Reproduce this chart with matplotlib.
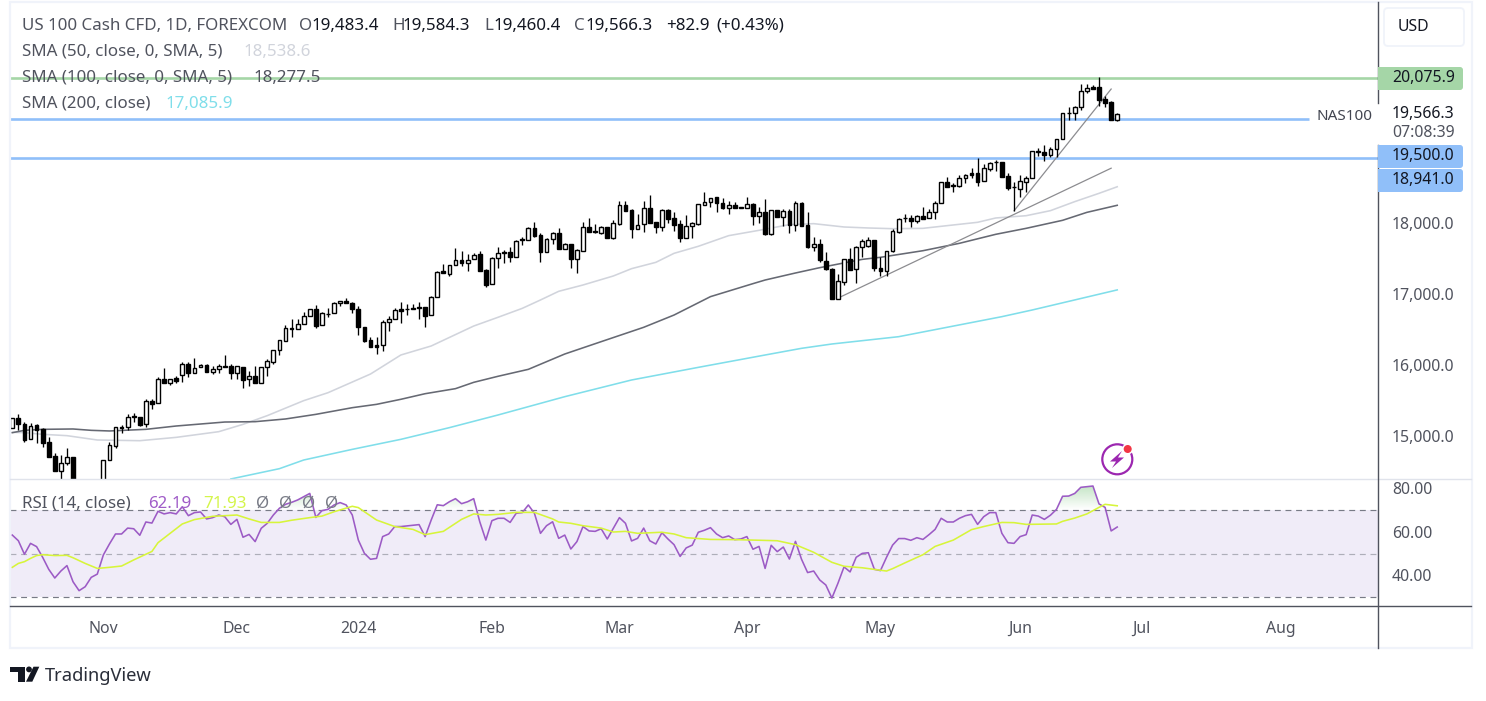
import numpy as np
import matplotlib
matplotlib.use("Agg")
import matplotlib.pyplot as plt
from matplotlib.patches import Rectangle, FancyBboxPatch, Circle, Polygon
from matplotlib.path import Path
from matplotlib.transforms import ScaledTranslation

plt.rcParams["font.family"] = ["Noto Sans", "DejaVu Sans"]

opens = [15135,15275,15195,14980,15180,15120,14945,14740,14540,14645,14730,14220,14035,14175,14080,14270,14685,14890,15155,15150,15310,15295,15195,15515,15490,15825,15780,15840,15885,16040,15910,15995,16025,15935,15965,
         16010,16010,15920,16000,15825,15875,15780,15995,16075,16235,16370,16550,16530,16600,16715,16810,16585,16750,16755,16895,16925,16895,16810,16560,16375,16305,16305,16630,16670,16810,16815,16830,16840,16840,16730,
         16980,17350,17315,17430,17505,17460,17515,17585,17365,17165,17530,17615,17615,17555,17805,17785,17955,17855,17625,17800,17885,17655,17730,17515,17640,17970,17910,17890,17970,17810,18020,18275,18210,17950,18010,
         18235,18040,17975,18210,18095,18010,17810,17980,18020,18285,18330,18390,18305,18245,18275,18255,18245,18290,18130,18180,17880,18205,18115,18195,18005,18305,17995,17695,17730,17500,17380,16960,17200,17515,17375,
         17685,17700,17790,17390,17355,17630,17905,18105,18095,18050,18120,18095,18190,18305,18600,18560,18545,18655,18730,18730,18615,18795,18890,18885,18685,18540,18510,18610,18655,19040,19025,18985,19065,19205,19580,
         19575,19665,19890,19940,19940,19770,19730,19483.4]
highs = [15275,15340,15230,15205,15195,15135,15020,14785,14760,14855,14730,14315,14220,14195,14340,14690,14945,15150,15185,15340,15355,15295,15550,15545,15860,15985,15835,15875,16070,16065,16125,16040,16040,16015,16040,
         16165,16040,16015,16000,15940,16015,15995,16110,16235,16375,16590,16670,16670,16775,16810,16870,16775,16835,16915,16925,16965,16915,16860,16560,16420,16420,16655,16720,16835,16915,16890,16890,16915,16840,17000,
         17350,17450,17430,17670,17635,17590,17600,17635,17375,17545,17685,17650,17685,17790,17825,17975,18040,17885,17810,17905,17960,17740,17730,17655,18040,18100,18015,17985,17970,18070,18340,18340,18220,18155,18340,
         18425,18040,18225,18220,18185,18070,18140,18045,18290,18465,18385,18390,18375,18340,18320,18255,18390,18305,18250,18360,18205,18205,18220,18220,18340,18325,18180,17825,17800,17620,17400,17310,17515,17670,17705,
         17800,17835,17790,17545,17640,17940,18105,18150,18135,18140,18255,18230,18345,18600,18675,18585,18700,18720,18800,18940,18860,18890,18915,18885,18730,18610,18705,18690,19040,19080,19125,19095,19215,19575,19665,
         19675,19985,19985,19975,20085,19815,19750,19584.3]
lows = [15135,15115,14950,14980,14935,14880,14735,14540,14420,14620,14175,13985,13965,14035,14055,14245,14685,14865,15075,15115,15230,15170,15160,15415,15490,15780,15750,15780,15795,15865,15910,15995,15930,15895,15920,
        15995,15835,15835,15710,15735,15780,15780,15875,16040,16170,16370,16425,16530,16600,16715,16555,16585,16710,16755,16865,16895,16765,16455,16350,16285,16190,16230,16510,16670,16625,16735,16810,16680,16570,16730,
        16980,17320,17285,17430,17425,17355,17515,17355,17130,17165,17390,17470,17485,17555,17725,17785,17835,17485,17615,17730,17655,17655,17400,17330,17630,17905,17885,17880,17810,17800,18005,18200,17810,17950,17905,
        18025,17885,17920,18035,17920,17765,17810,17810,17995,18285,18260,18190,18220,18155,18235,18245,18245,18000,18035,17865,17865,18115,17985,17885,17920,17985,17680,17640,17475,17365,16960,16960,17160,17360,17185,
        17550,17690,17350,17285,17285,17620,17885,18045,17975,18025,18090,18095,18090,18305,18540,18470,18540,18595,18655,18555,18615,18765,18765,18680,18500,18200,18395,18465,18655,18970,18900,18955,18960,19205,19480,
        19480,19620,19855,19920,19680,19655,19475,19460.4]
closes = [15275,15195,14975,15175,15115,14935,14735,14540,14645,14730,14220,14035,14175,14080,14290,14690,14895,15150,15145,15300,15290,15185,15515,15485,15825,15780,15835,15805,16040,15910,15990,16025,15935,15965,16010,
          16000,15920,16010,15820,15870,15780,15995,16080,16235,16375,16545,16540,16600,16715,16810,16580,16755,16740,16895,16925,16895,16810,16560,16370,16285,16285,16630,16670,16800,16795,16810,16810,16830,16720,16980,
          17335,17320,17430,17500,17460,17510,17580,17355,17160,17530,17600,17605,17555,17770,17795,17955,17850,17625,17800,17885,17655,17730,17515,17645,17965,17905,17900,17965,17810,18025,18275,18200,17950,18005,18235,
          18035,17975,18210,18090,18005,17810,17980,18025,18290,18330,18385,18305,18245,18275,18245,18245,18290,18130,18180,17875,18205,18115,18195,18000,18305,17985,17695,17730,17500,17375,16960,17205,17515,17370,17685,
          17770,17785,17390,17350,17630,17910,18080,18095,18050,18120,18090,18190,18305,18600,18540,18550,18655,18710,18710,18610,18800,18880,18885,18680,18520,18530,18615,18655,19040,19035,18985,19065,19205,19575,19575,
          19665,19890,19925,19920,19765,19725,19475,19566.3]

sma50_bars = [0,2,5,9,14,21,27,34,38,42,48,52,59,64,69,76,80,84,87,90,94,99,102,106,109,113,118,123,128,132,137,141,145,150,154,159,162,167,171,175,179,182]
sma50 = [15080,15075,15052,15033,14972,14962,15009,15089,15192,15315,15526,15638,15901,16169,16296,16577,16700,16826,16944,17066,17155,17282,17385,17474,17601,17700,17850,17925,18005,18019,17972,17958,17948,17953,17991,18038,18099,18131,18202,18329,18446,18538.6]
sma100_bars = [0,2,5,10,13,16,22,27,35,40,45,50,56,60,64,68,73,76,80,85,91,97,104,109,115,122,124,129,133,140,143,150,156,162,167,173,177,182]
sma100 = [15075,15108,15122,15127,15108,15099,15122,15169,15225,15230,15268,15333,15427,15474,15545,15624,15695,15784,15869,15967,16183,16357,16559,16732,16991,17174,17225,17324,17399,17516,17545,17638,17742,17869,17953,18066,18178,18277.5]
sma200_bars = [36,44,48,56,64,72,80,91,102,113,124,130,135,146,163,168,182]
sma200 = [14423,14568,14690,14840,14981,15146,15324,15582,15817,15995,16169,16263,16324,16427,16709,16803,17085.9]

rsi = [58.5,55.9,49.7,54.7,53.2,48.3,42.8,38.8,42.0,44.5,37.1,33.0,34.8,39.1,40.6,49.4,54.4,59.0,59.0,61.7,61.4,58.4,64.5,64.0,69.4,68.2,68.8,68.2,71.5,67.4,68.8,69.1,65.9,66.5,67.7,66.9,63.4,65.7,57.5,58.8,
       55.5,61.6,63.9,67.7,70.8,72.6,73.5,74.6,76.1,77.6,66.6,69.7,70.3,72.3,73.4,72.3,67.7,56.2,50.1,47.4,47.8,57.8,59.0,62.4,62.4,62.7,63.0,63.3,57.8,65.4,72.4,72.0,73.8,75.2,72.9,73.8,75.2,64.6,56.2,65.1,
       66.2,66.2,64.3,68.5,68.8,72.3,68.5,59.3,62.8,64.6,57.0,58.5,52.1,55.5,62.4,60.4,60.2,61.4,56.7,61.6,66.5,63.9,55.8,57.0,61.7,55.9,54.4,59.6,56.7,54.1,48.7,52.6,53.9,59.8,60.7,61.9,59.0,57.3,58.1,56.4,
       56.7,57.8,52.0,53.3,43.2,53.8,50.9,53.0,47.5,55.6,47.4,41.3,42.0,37.9,35.6,29.6,36.4,43.9,41.6,48.3,50.1,50.4,42.8,42.2,48.3,53.9,56.9,56.9,56.1,57.3,56.5,58.7,61.1,66.2,64.5,64.5,66.2,67.4,68.0,63.4,
       66.9,68.8,68.8,59.3,55.0,54.7,57.8,58.7,67.7,67.2,65.7,67.6,70.3,76.3,76.4,77.6,80.4,80.7,81.0,72.8,71.2,60.4,62.19]
rsi_ma_bars = [0,1,2,3,4,5,7,9,10,12,14,16,18,20,23,24,26,28,30,33,37,39,41,44,46,49,51,53,56,57,60,63,66,68,71,74,76,78,80,83,86,89,90,92,94,97,99,101,103,107,109,111,115,119,122,126,129,132,135,137,140,144,145,147,150,152,155,158,160,163,165,167,172,173,175,177,179,180,182]
rsi_ma = [43.7,45.5,46.3,47.8,49.1,49.5,49.1,49.2,48.1,45.5,43.2,43.7,44.3,47.1,51.0,55.0,59.3,63.6,65.6,67.1,67.7,65.9,64.3,64.3,65.3,66.5,67.2,69.2,71.7,71.1,65.4,62.4,61.1,58.7,60.2,65.7,68.2,67.7,68.0,68.9,68.9,65.9,64.5,63.9,62.8,61.7,59.9,60.2,59.3,59.8,59.0,57.3,56.5,56.4,56.2,55.9,54.1,50.6,46.0,44.2,43.5,42.0,43.1,45.7,49.5,53.3,56.2,61.0,62.4,64.3,64.2,63.4,63.6,64.8,66.3,68.2,71.2,72.6,71.93]

# drawn levels and the two trend lines
green_level = 20075.9
blue_levels = [19500.0, 18941.0]
trend1_bars, trend1 = [136, 181], [16970, 18800]
trend2_bars, trend2 = [165, 181], [18200, 19915]

price_ticks = [15000, 16000, 17000, 18000]
price_labels = ["15,000.0", "16,000.0", "17,000.0", "18,000.0"]
rsi_ticks = [40, 60, 80]
rsi_labels = ["40.00", "60.00", "80.00"]
month_bars = [15, 37, 57, 79, 100, 121, 143, 166, 186, 209]
month_labels = ["Nov", "Dec", "2024", "Feb", "Mar", "Apr", "May", "Jun", "Jul", "Aug"]

W, H = 1486, 701
GREY = "#50535e"
INK = "#131722"
fig = plt.figure(figsize=(W / 100, H / 100), dpi=100)

def axes_px(x0, y0, x1, y1):
    return fig.add_axes([x0 / W, 1 - y1 / H, (x1 - x0) / W, (y1 - y0) / H])

def to_bar(px):
    return (px - 12.3) / 6.071

ax = axes_px(10, 2, 1378, 479)
ax_rsi = axes_px(10, 479, 1378, 606)
xlim = (to_bar(10), to_bar(1378))

# price pane
ax.hlines(green_level, *xlim, color="#a5d6a7", lw=1.9, zorder=1)
ax.hlines(blue_levels[0], xlim[0], to_bar(1309), color="#90bff9", lw=1.9, zorder=1)
ax.hlines(blue_levels[1], *xlim, color="#90bff9", lw=1.9, zorder=1)
ax.plot(sma50_bars, sma50, color="#d1d4dc", lw=1.15, zorder=2)
ax.plot(sma100_bars, sma100, color="#666973", lw=1.15, zorder=2)
ax.plot(sma200_bars, sma200, color="#80deea", lw=1.15, zorder=2)
ax.plot(trend1_bars, trend1, color="#8c8c90", lw=0.9, zorder=2)
ax.plot(trend2_bars, trend2, color="#8c8c90", lw=0.9, zorder=2)

bars = np.arange(len(closes))
o, h, l, c = [np.array(v, dtype=float) for v in (opens, highs, lows, closes)]
ax.vlines(bars, l, h, color="black", lw=0.95, zorder=3)
body_col = np.where(c >= o, "white", "black")
ax.bar(bars, c - o, bottom=o, width=0.62, color=body_col, edgecolor="black", linewidth=1.0, zorder=4)

ax.set_xlim(*xlim)
ax.set_ylim(18000 + (225 - 479) / 0.071, 18000 + (225 - 2) / 0.071)
ax.set_xticks([])
ax.yaxis.tick_right()
ax.set_yticks(price_ticks, price_labels, color=GREY, fontsize=11.4)
ax.tick_params(axis="y", length=0, pad=10)
for lab in ax.get_yticklabels():
    lab.set_transform(lab.get_transform() + ScaledTranslation(0, 2 / 100, fig.dpi_scale_trans))

# RSI pane
rsi_arr = np.array(rsi)
ax_rsi.axhspan(30, 70, color="#7e57c2", alpha=0.11, lw=0, zorder=0)
for level, alpha in [(70, 1), (50, 0.55), (30, 1)]:
    ax_rsi.axhline(level, color="#787b86", lw=0.85, dashes=(5, 4), alpha=alpha, zorder=1)
over = ax_rsi.fill_between(bars, 70, rsi_arr, where=rsi_arr > 70, interpolate=True, fc="none", lw=0)
ramp = np.zeros((64, 1, 4))
ramp[..., 0], ramp[..., 1], ramp[..., 2] = 0.30, 0.69, 0.31
ramp[:, 0, 3] = np.linspace(0.32, 0.0, 64)
shade = ax_rsi.imshow(ramp, extent=(xlim[0], xlim[1], 70, rsi_arr.max()), aspect="auto", zorder=1.5)
shade.set_clip_path(Path.make_compound_path(*over.get_paths()), ax_rsi.transData)
ax_rsi.plot(bars, rsi_arr, color="#9c5bc5", lw=1.15, zorder=2)
ax_rsi.plot(rsi_ma_bars, rsi_ma, color="#d7f53a", lw=1.15, zorder=3)
ax_rsi.set_xlim(*xlim)
ax_rsi.set_ylim(70 - 96 / 2.18, 70 + 31 / 2.18)
ax_rsi.set_xticks(month_bars, month_labels, color=GREY, fontsize=11.4)
ax_rsi.get_xticklabels()[2].set_fontweight("bold")
ax_rsi.tick_params(axis="x", length=0, pad=10.5)
ax_rsi.yaxis.tick_right()
ax_rsi.set_yticks(rsi_ticks, rsi_labels, color=GREY, fontsize=11.4)
ax_rsi.tick_params(axis="y", length=0, pad=10)
for a in (ax, ax_rsi):
    for s in a.spines.values():
        s.set_visible(False)

# everything around the panes, in pixels
ov = fig.add_axes([0, 0, 1, 1], facecolor="none")
ov.set_xlim(0, W)
ov.set_ylim(H, 0)
ov.axis("off")
ov.add_patch(Rectangle((9.5, 2), 1462, 646, fc="none", ec="#f0f3fa", lw=1.6))
ov.plot([10, 1471], [479, 479], color="#e0e3eb", lw=1)
ov.plot([10, 1471], [606, 606], color=GREY, lw=1)
ov.plot([1378, 1378], [2, 103], color=GREY, lw=1)
ov.plot([1378, 1378], [145, 648], color=GREY, lw=1)

def label(x, y, s, color=GREY, size=12.2, **kw):
    ov.text(x, y + 1, s, color=color, fontsize=size, va="center", ha=kw.pop("ha", "left"), **kw)

label(22, 25, "US 100 Cash CFD, 1D, FOREXCOM")
for x, s in [(299, "O"), (392, "H"), (484, "L"), (574, "C")]:
    label(x, 25, s)
for x, s in [(311, "19,483.4"), (402, "19,584.3"), (493, "19,460.4"), (585, "19,566.3"),
             (666, "+82.9"), (716, "(+0.43%)")]:
    label(x, 25, s, color=INK)
label(22, 51, "SMA (50, close, 0, SMA, 5)")
label(243, 51, "18,538.6", color="#d1d4dc")
label(22, 77, "SMA (100, close, 0, SMA, 5)")
label(253, 77, "18,277.5")
label(22, 103, "SMA (200, close)")
label(165, 103, "17,085.9", color="#80deea")
label(22, 503, "RSI (14, close)")
label(148, 503, "62.19", color="#a05cc8")
label(203, 503, "71.93", color="#d4f54a")
for x in [263, 286, 309, 332]:
    label(x, 503, "\u00d8", color="#787b86", ha="center")

def tag(y0, y1, s, color):
    ov.add_patch(FancyBboxPatch((1381, y0 + 3), 79, y1 - y0 - 6, boxstyle="round,pad=3", fc=color, ec="none", zorder=5))
    ov.add_patch(Rectangle((1378, y0), 10, y1 - y0, fc=color, ec="none", zorder=5))
    label(1392, (y0 + y1) / 2 - 1, s, color=INK, size=11.4, zorder=6)

tag(67, 90, "20,075.9", "#a5d6a7")
tag(145, 168, "19,500.0", "#90bff9")
tag(169, 192, "18,941.0", "#90bff9")
label(1392, 113, "19,566.3", color=INK, size=11.4)
label(1392, 132, "07:08:39", size=11.4)
label(1316, 115, "NAS100", color="#434651", size=11)
ov.add_patch(FancyBboxPatch((1388, 12), 72, 30, boxstyle="round,pad=4", fc="white", ec="#f0f3fa", lw=1.3))
label(1398, 26, "USD", color=INK, size=11.4)

# lightning badge
ov.add_patch(Circle((1117.3, 459.3), 15, fc="none", ec="#9c27b0", lw=1.6))
ov.add_patch(Polygon([(1122, 451), (1110, 461.5), (1116, 461.5), (1112, 468), (1124, 457.5), (1118, 457.5)], fc="#9c27b0", ec="none"))
ov.add_patch(Circle((1127.7, 449), 5.5, fc="white", ec="none"))
ov.add_patch(Circle((1127.7, 449), 4, fc="#f23645", ec="none"))

# TradingView mark
ov.add_patch(Polygon([(10, 666.7), (25, 666.7), (25, 681.7), (17.7, 681.7), (17.7, 672.3), (10, 672.3)], fc=INK, ec="none"))
ov.add_patch(Circle((29, 669.4), 2.9, fc=INK, ec="none"))
ov.add_patch(Polygon([(33.5, 666.7), (39.3, 666.7), (32.3, 681.7), (26, 681.7)], fc=INK, ec="none"))
label(45, 675, "TradingView", color="#2a2e39", size=13.2)

fig.savefig("out.png", dpi=100)
